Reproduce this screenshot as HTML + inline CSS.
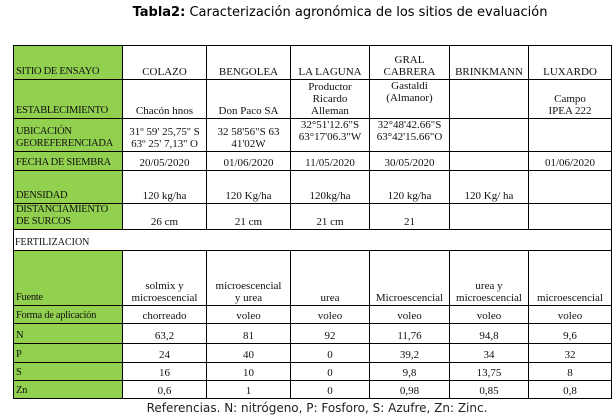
<!DOCTYPE html>
<html><head><meta charset="utf-8"><style>
body{margin:0;width:614px;height:420px;background:#fff;position:relative;overflow:hidden;font-family:"Liberation Serif",serif}
.title{position:absolute;top:5px;left:0;width:614px;text-align:center;font-family:"DejaVu Sans",sans-serif;font-size:13px;color:#000;padding-left:66px;box-sizing:border-box}
table{position:absolute;left:13px;top:45px;border-collapse:collapse;table-layout:fixed;width:598px}
td{border:1px solid #000;padding:0 1px 1px;font-size:11px;line-height:12px;text-align:center;vertical-align:bottom;color:#111;overflow:hidden;white-space:nowrap}
td.g{background:#92d050;text-align:left;font-size:10.5px;letter-spacing:-0.3px;padding-left:2px}
.cap{position:absolute;top:401px;left:0;width:614px;text-align:center;font-family:"DejaVu Sans",sans-serif;font-size:12px;color:#222;padding-left:20px;box-sizing:border-box}
</style></head><body>
<div class="title"><b>Tabla2:</b> Caracterización agronómica de los sitios de evaluación</div>
<table>
<colgroup><col style="width:109px"><col style="width:84px"><col style="width:84px"><col style="width:79px"><col style="width:80px"><col style="width:79px"><col style="width:83px"></colgroup>
<tr style="height:34px"><td class="g">SITIO DE ENSAYO</td><td>COLAZO</td><td>BENGOLEA</td><td>LA LAGUNA</td><td>GRAL<br>CABRERA</td><td>BRINKMANN</td><td>LUXARDO</td></tr>
<tr style="height:39px"><td class="g">ESTABLECIMIENTO</td><td>Chacón hnos</td><td>Don Paco SA</td><td>Productor<br>Ricardo<br>Alleman</td><td style="vertical-align:top">Gastaldi<br>(Almanor)</td><td></td><td>Campo<br>IPEA 222</td></tr>
<tr style="height:33px"><td class="g">UBICACIÓN<br>GEOREFERENCIADA</td><td>31º 59' 25,75'' S<br>63º 25' 7,13'' O</td><td>32 58'56"S 63<br>41'02W</td><td style="vertical-align:top">32°51'12.6"S<br>63°17'06.3"W</td><td style="vertical-align:top">32°48'42.66"S<br>63°42'15.66"O</td><td></td><td></td></tr>
<tr style="height:19px"><td class="g">FECHA DE SIEMBRA</td><td>20/05/2020</td><td>01/06/2020</td><td>11/05/2020</td><td>30/05/2020</td><td></td><td>01/06/2020</td></tr>
<tr style="height:33px"><td class="g">DENSIDAD</td><td>120 kg/ha</td><td>120 Kg/ha</td><td>120kg/ha</td><td>120 kg/ha</td><td>120 Kg/ ha</td><td></td></tr>
<tr style="height:26px"><td class="g">DISTANCIAMIENTO<br>DE SURCOS</td><td>26 cm</td><td>21 cm</td><td>21 cm</td><td>21</td><td></td><td></td></tr>
<tr style="height:21px"><td colspan="7" style="text-align:left;font-size:10px">FERTILIZACION</td></tr>
<tr style="height:55px"><td class="g">Fuente</td><td>solmix y<br>microescencial</td><td>microescencial<br>y urea</td><td>urea</td><td>Microescencial</td><td>urea y<br>microescencial</td><td>microescencial</td></tr>
<tr style="height:18px"><td class="g">Forma de aplicación</td><td>chorreado</td><td>voleo</td><td>voleo</td><td>voleo</td><td>voleo</td><td>voleo</td></tr>
<tr style="height:20px"><td class="g">N</td><td>63,2</td><td>81</td><td>92</td><td>11,76</td><td>94,8</td><td>9,6</td></tr>
<tr style="height:19px"><td class="g">P</td><td>24</td><td>40</td><td>0</td><td>39,2</td><td>34</td><td>32</td></tr>
<tr style="height:18px"><td class="g">S</td><td>16</td><td>10</td><td>0</td><td>9,8</td><td>13,75</td><td>8</td></tr>
<tr style="height:18px"><td class="g">Zn</td><td>0,6</td><td>1</td><td>0</td><td>0,98</td><td>0,85</td><td>0,8</td></tr>
</table>
<div class="cap">Referencias. N: nitrógeno, P: Fosforo, S: Azufre, Zn: Zinc.</div>
</body></html>
